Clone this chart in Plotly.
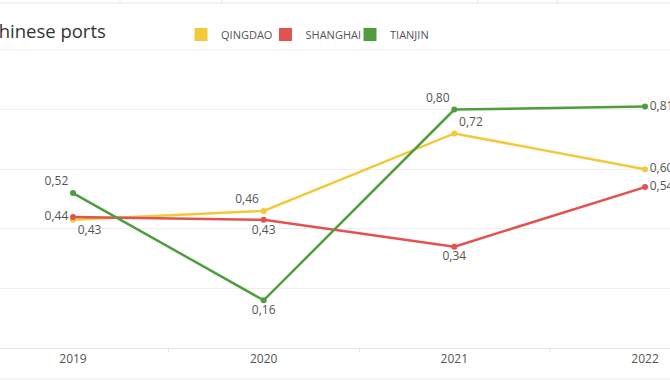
import plotly.graph_objects as go

years = ["2019", "2020", "2021", "2022"]
qingdao = [0.43, 0.46, 0.72, 0.60]
shanghai = [0.44, 0.43, 0.34, 0.54]
tianjin = [0.52, 0.16, 0.80, 0.81]
series_names = ["QINGDAO", "SHANGHAI", "TIANJIN"]
title_text = "Chinese ports"

colors = ["#F1C93B", "#E35150", "#4F9D3F"]
text_positions = [
    ["bottom right", "top left", "top right", "middle right"],
    ["middle left", "bottom center", "bottom center", "middle right"],
    ["top left", "bottom center", "top left", "middle right"],
]

W, H = 670, 380
ML, MR, MT, MB = 0, 0, 50, 32
x0_px, step_px = 73, 190.67
xr = [-(x0_px - ML) / step_px, (W - MR - x0_px) / step_px]
plot_h = H - MT - MB

def py(px):
    # pixel y -> paper y
    return (H - MB - px) / plot_h

def pxx(px):
    return (px - ML) / (W - ML - MR)

fig = go.Figure()
for name, vals, col, tp in zip(series_names, [qingdao, shanghai, tianjin], colors, text_positions):
    fig.add_trace(go.Scatter(
        x=years, y=vals, mode="lines+markers+text", name=name,
        line=dict(color=col, width=2.5), marker=dict(color=col, size=6),
        texttemplate="%{y:.2f}", textposition=tp,
        textfont=dict(family="Open Sans", size=12, color="#555555"),
        showlegend=False, cliponaxis=False, hoverinfo="skip",
    ))
for name, col in zip(series_names, colors):
    fig.add_trace(go.Scatter(
        x=[None], y=[None], mode="markers", name=name,
        marker=dict(symbol="square", size=13, color=col),
        showlegend=True,
    ))

shapes = [
    dict(type="line", xref="paper", yref="paper", x0=0, x1=1, y0=py(3), y1=py(3),
         line=dict(color="#e6e6e6", width=1)),
    dict(type="line", xref="paper", yref="paper", x0=0, x1=1, y0=1, y1=1,
         line=dict(color="#eeeeee", width=1)),
    dict(type="line", xref="paper", yref="paper", x0=0, x1=1, y0=py(379), y1=py(379),
         line=dict(color="#ececec", width=1)),
]
for dx in [120, 222, 478, 557]:
    shapes.append(dict(type="line", xref="paper", yref="paper", x0=pxx(dx), x1=pxx(dx),
                       y0=py(0), y1=py(3), line=dict(color="#e6e6e6", width=1)))

fig.update_layout(
    width=W, height=H,
    margin=dict(l=ML, r=MR, t=MT, b=MB, autoexpand=False),
    paper_bgcolor="white", plot_bgcolor="white",
    separators=", ",
    font=dict(family="Open Sans", color="#555555"),
    hovermode=False,
    xaxis=dict(type="category", range=xr, showgrid=False, zeroline=False, automargin=False,
               showline=True, linecolor="#e6e6e6", linewidth=1,
               ticks="outside", tickson="boundaries", ticklen=3, tickcolor="#e6e6e6",
               tickfont=dict(family="Open Sans", size=12, color="#555555")),
    yaxis=dict(range=[0, 1], dtick=0.2, showgrid=True, gridcolor="#eeeeee", gridwidth=1,
               zeroline=False, showticklabels=False, fixedrange=True, automargin=False),
    legend=dict(orientation="h", x=pxx(181), xanchor="left", y=py(34.5), yanchor="middle",
                font=dict(family="Open Sans", size=11, color="#555555"),
                itemwidth=30, entrywidth=39.5, entrywidthmode="pixels",
                tracegroupgap=0, bgcolor="rgba(0,0,0,0)"),
    shapes=shapes,
    annotations=[dict(text=title_text, xref="paper", yref="paper", x=pxx(108), y=py(31),
                      xanchor="right", yanchor="middle", showarrow=False,
                      font=dict(family="Open Sans", size=18.5, color="#333333"))],
)

fig.write_html("out.html", config={"displayModeBar": False},
               post_script="document.body.style.margin='0';document.body.style.padding='0';")
